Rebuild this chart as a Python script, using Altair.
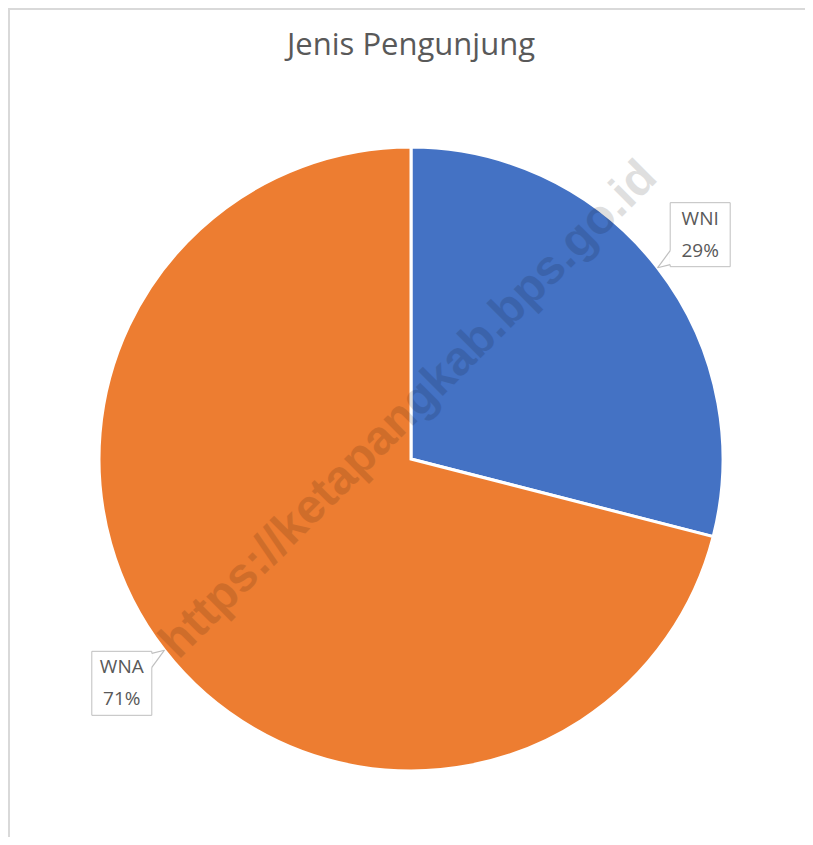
import altair as alt
import pandas as pd

categories = ["WNI", "WNA"]
shares = [29, 71]
slice_order = [0, 1]
colors = ["#4472C4", "#ED7D31"]
title_text = "Jenis Pengunjung"
watermark_text = "https://ketapangkab.bps.go.id"

df = pd.DataFrame({"category": categories, "value": shares, "order": slice_order})

W, H = 797, 829
CX, CY, R = 403, 451, 312
LR = 366          # radius of label box centres
HW, HH = 30, 32   # half sizes of label boxes
GRAY_TEXT = "#595959"
BOX_STROKE = "#BFBFBF"

pie = alt.Chart(df).mark_arc(outerRadius=R, stroke="white", strokeWidth=3).encode(
    theta=alt.Theta("value:Q", stack=True),
    order=alt.Order("order:Q"),
    color=alt.Color("category:N", scale=alt.Scale(domain=categories, range=colors), legend=None),
    x=alt.value(CX),
    y=alt.value(CY),
)

geo = (
    alt.Chart(df)
    .transform_joinaggregate(total="sum(value)")
    .transform_window(cum="sum(value)", sort=[alt.SortField("order")], frame=[None, 0])
    .transform_calculate(
        mid="(datum.cum - datum.value / 2) / datum.total * 2 * PI",
        pct="round(datum.value / datum.total * 100) + '%'",
    )
    .transform_calculate(
        sx="sin(datum.mid) >= 0 ? 1 : -1",
        sy="cos(datum.mid) >= 0 ? 1 : -1",
        lx=f"{CX} + {LR} * sin(datum.mid)",
        ly=f"{CY} - {LR} * cos(datum.mid)",
        tx=f"{CX} + {R} * sin(datum.mid)",
        ty=f"{CY} - {R} * cos(datum.mid)",
    )
    .transform_calculate(
        bx1=f"datum.lx - {HW}",
        bx2=f"datum.lx + {HW}",
        by1=f"datum.ly - {HH}",
        by2=f"datum.ly + {HH}",
        side=f"datum.lx - datum.sx * {HW}",
        b1=f"datum.ly + datum.sy * ({HH} - 2)",
        b2=f"datum.ly + datum.sy * ({HH} - 16)",
        line1=f"datum.ly - 16",
        line2=f"datum.ly + 16",
    )
)

boxes = geo.mark_rect(fill="white", stroke=BOX_STROKE, strokeWidth=1).encode(
    x=alt.X("bx1:Q", scale=None, axis=None),
    x2="bx2:Q",
    y=alt.Y("by1:Q", scale=None, axis=None),
    y2="by2:Q",
)
cover = geo.mark_rule(stroke="white", strokeWidth=2).encode(
    x=alt.X("side:Q", scale=None), x2="side:Q",
    y=alt.Y("b1:Q", scale=None), y2="b2:Q",
)
ptr1 = geo.mark_rule(stroke=BOX_STROKE, strokeWidth=1.2).encode(
    x=alt.X("tx:Q", scale=None), x2="side:Q",
    y=alt.Y("ty:Q", scale=None), y2="b1:Q",
)
ptr2 = geo.mark_rule(stroke=BOX_STROKE, strokeWidth=1.2).encode(
    x=alt.X("tx:Q", scale=None), x2="side:Q",
    y=alt.Y("ty:Q", scale=None), y2="b2:Q",
)
txt_style = dict(font="Open Sans", fontSize=19, color=GRAY_TEXT, align="center", baseline="middle")
lab1 = geo.mark_text(**txt_style).encode(
    x=alt.X("lx:Q", scale=None), y=alt.Y("line1:Q", scale=None), text="category:N"
)
lab2 = geo.mark_text(**txt_style).encode(
    x=alt.X("lx:Q", scale=None), y=alt.Y("line2:Q", scale=None), text="pct:N"
)

title = alt.Chart(pd.DataFrame({"t": [title_text]})).mark_text(
    font="Open Sans", fontSize=31, color=GRAY_TEXT, align="center", baseline="middle"
).encode(x=alt.value(403), y=alt.value(38), text="t:N")

wm = alt.Chart(pd.DataFrame({"t": [watermark_text]})).mark_text(
    font="Liberation Sans", fontWeight="bold", fontSize=48, color="black", opacity=0.12,
    angle=315, align="center", baseline="middle"
).encode(x=alt.value(401), y=alt.value(402), text="t:N")

frame_left = alt.Chart(pd.DataFrame({"a": [0]})).mark_rule(stroke="#D9D9D9", strokeWidth=2).encode(
    x=alt.value(1), y=alt.value(0), y2=alt.value(H)
)
frame_top = alt.Chart(pd.DataFrame({"a": [0]})).mark_rule(stroke="#D9D9D9", strokeWidth=2).encode(
    x=alt.value(0), x2=alt.value(W), y=alt.value(1)
)

chart = alt.layer(
    frame_left, frame_top, pie, wm, boxes, cover, ptr1, ptr2, lab1, lab2, title
).properties(
    width=W, height=H, autosize=alt.AutoSizeParams(type="none"), padding=0
).configure_view(stroke=None)

chart.save("out.html", embed_options={"renderer": "svg", "actions": False})
